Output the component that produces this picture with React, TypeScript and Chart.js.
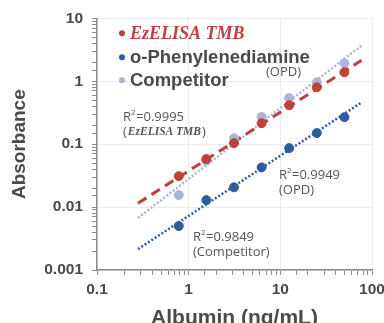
import React, { useEffect, useRef } from "react";
import { Chart, registerables } from "chart.js";

Chart.register(...registerables);

const albumin = [0.78, 1.56, 3.125, 6.25, 12.5, 25, 50];
const ezelisa = [0.031, 0.058, 0.104, 0.215, 0.416, 0.8, 1.39];
const opd = [0.005, 0.0129, 0.0206, 0.0427, 0.0865, 0.15, 0.268];
const competitor = [0.0155, 0.055, 0.124, 0.27, 0.54, 0.96, 1.93];

const trendX = [0.28, 77];
const ezelisaTrend = [0.0115, 2.15];
const opdTrend = [0.00215, 0.46];
const competitorTrend = [0.0067, 3.7];

const xTickLabels = ["0.1", "1", "10", "100"];
const yTickLabels = ["0.001", "0.01", "0.1", "1", "10"];

const RED = "#c0403d";
const BLUE = "#2f5c9c";
const LIGHT = "#a9b7d6";
const TEXT = "#4a4a4a";

const W = 384;
const H = 334;

const pts = (xs: number[], ys: number[]) => xs.map((x, i) => ({ x, y: ys[i] }));
const isDecade = (v: number) => Math.abs(Math.log10(v) - Math.round(Math.log10(v))) < 1e-6;
const fmt = (v: number, labels: string[]) => {
  if (!isDecade(v)) return "";
  const s = labels.find((l) => Math.abs(parseFloat(l) - v) < v * 1e-6);
  return s ?? "";
};

const annotate = {
  id: "annotate",
  afterDatasetsDraw(chart: any) {
    const { ctx, chartArea } = chart;
    const L = chartArea.left;
    const T = chartArea.top;
    ctx.save();
    ctx.textBaseline = "middle";
    ctx.textAlign = "left";
    // legend
    const rows = [
      { color: RED, text: "EzELISA TMB", font: "italic bold 18px 'Liberation Serif'", tc: RED, y: 15 },
      { color: BLUE, text: "o-Phenylenediamine", font: "bold 18.5px 'Liberation Sans'", tc: TEXT, y: 39 },
      { color: LIGHT, text: "Competitor", font: "bold 18.5px 'Liberation Sans'", tc: TEXT, y: 62 },
    ];
    rows.forEach((r) => {
      ctx.beginPath();
      ctx.fillStyle = r.color;
      ctx.arc(L + 25, T + r.y, 3, 0, Math.PI * 2);
      ctx.fill();
      ctx.font = r.font;
      ctx.fillStyle = r.tc;
      ctx.fillText(r.text, L + 33, T + r.y + 1);
    });
    ctx.fillStyle = "#555";
    ctx.font = "13px 'Open Sans'";
    ctx.fillText("(OPD)", L + 169, T + 54);

    const r2 = (x: number, y: number, val: string, sub: string, subFont?: string) => {
      ctx.font = "13px 'Open Sans'";
      ctx.fillStyle = "#555";
      ctx.fillText("R", x, y);
      const w = ctx.measureText("R").width;
      ctx.font = "8px 'Open Sans'";
      ctx.fillText("2", x + w, y - 5);
      ctx.font = "13px 'Open Sans'";
      ctx.fillText("=" + val, x + w + 5, y);
      if (subFont) {
        ctx.font = "13px 'Open Sans'";
        ctx.fillText("(", x, y + 15);
        const pw = ctx.measureText("(").width;
        ctx.font = subFont;
        ctx.fillText(sub, x + pw + 1, y + 15);
        const sw = ctx.measureText(sub).width;
        ctx.font = "13px 'Open Sans'";
        ctx.fillText(")", x + pw + sw + 2, y + 15);
      } else {
        ctx.fillText("(" + sub + ")", x, y + 15);
      }
    };
    r2(L + 26, T + 99, "0.9995", "EzELISA TMB", "italic bold 11.5px 'Liberation Serif'");
    r2(L + 182, T + 157, "0.9949", "OPD");
    r2(L + 96, T + 219, "0.9849", "Competitor");
    ctx.restore();
  },
};

export default function App() {
  const ref = useRef<HTMLCanvasElement>(null);
  useEffect(() => {
    document.body.style.margin = "0";
    const tickFont = { family: "'Liberation Sans'", size: 15.5, weight: "bold" as const };
    const gridColor = (c: any) => (c.tick && isDecade(c.tick.value) ? "#ececec" : "rgba(0,0,0,0)");
    const chart = new Chart(ref.current!, {
      type: "scatter",
      data: {
        datasets: [
          { label: "EzELISA TMB", data: pts(albumin, ezelisa), backgroundColor: RED, borderColor: RED, pointRadius: 4.5, order: 1 },
          { label: "o-Phenylenediamine", data: pts(albumin, opd), backgroundColor: BLUE, borderColor: BLUE, pointRadius: 4.5, order: 1 },
          { label: "Competitor", data: pts(albumin, competitor), backgroundColor: LIGHT, borderColor: LIGHT, pointRadius: 4.5, order: 2 },
          {
            label: "Competitor trend",
            data: pts(trendX, competitorTrend),
            showLine: true,
            borderColor: LIGHT,
            borderWidth: 2.5,
            borderDash: [2, 2],
            pointRadius: 0,
            order: 5,
          },
          {
            label: "EzELISA trend",
            data: pts(trendX, ezelisaTrend),
            showLine: true,
            borderColor: RED,
            borderWidth: 3,
            borderDash: [10, 6],
            pointRadius: 0,
            order: 4,
          },
          {
            label: "OPD trend",
            data: pts(trendX, opdTrend),
            showLine: true,
            borderColor: BLUE,
            borderWidth: 2.5,
            borderDash: [2, 2],
            pointRadius: 0,
            order: 3,
          },
        ],
      },
      options: {
        animation: false,
        responsive: false,
        maintainAspectRatio: false,
        layout: { padding: { top: 18, right: 12, left: 0, bottom: 0 } },
        plugins: { legend: { display: false }, tooltip: { enabled: false } },
        scales: {
          x: {
            type: "logarithmic",
            min: 0.1,
            max: 100,
            afterFit: (s: any) => {
              s.height = H - 270;
              s.paddingRight = 0;
              s.paddingLeft = 0;
            },
            title: {
              display: true,
              text: "Albumin (ng/mL)",
              color: TEXT,
              font: { family: "'Liberation Sans'", size: 21, weight: "bold" },
              padding: { top: 0, bottom: 3 },
            },
            ticks: {
              autoSkip: false,
              maxRotation: 0,
              color: TEXT,
              font: tickFont,
              padding: 5,
              callback: (v: any) => fmt(Number(v), xTickLabels),
            },
            grid: { color: gridColor, tickColor: "#8a8a8a", tickLength: 5, lineWidth: 1 },
            border: { color: "#8a8a8a", width: 1.5 },
          },
          y: {
            type: "logarithmic",
            min: 0.001,
            max: 10,
            afterFit: (s: any) => {
              s.width = 97;
            },
            title: {
              display: true,
              text: "Absorbance",
              color: TEXT,
              font: { family: "'Liberation Sans'", size: 19, weight: "bold" },
              padding: { top: 8, bottom: 0 },
            },
            ticks: {
              autoSkip: false,
              color: TEXT,
              font: tickFont,
              padding: 9,
              callback: (v: any) => fmt(Number(v), yTickLabels),
            },
            grid: { color: gridColor, tickColor: "#8a8a8a", tickLength: 5, lineWidth: 1 },
            border: { color: "#8a8a8a", width: 1.5 },
          },
        },
      },
      plugins: [annotate],
    });
    return () => chart.destroy();
  }, []);
  return (
    <div style={{ position: "absolute", left: 0, top: 0, width: W, height: H, background: "#fff" }}>
      <canvas ref={ref} width={W} height={H} style={{ width: W, height: H, display: "block" }} />
    </div>
  );
}
